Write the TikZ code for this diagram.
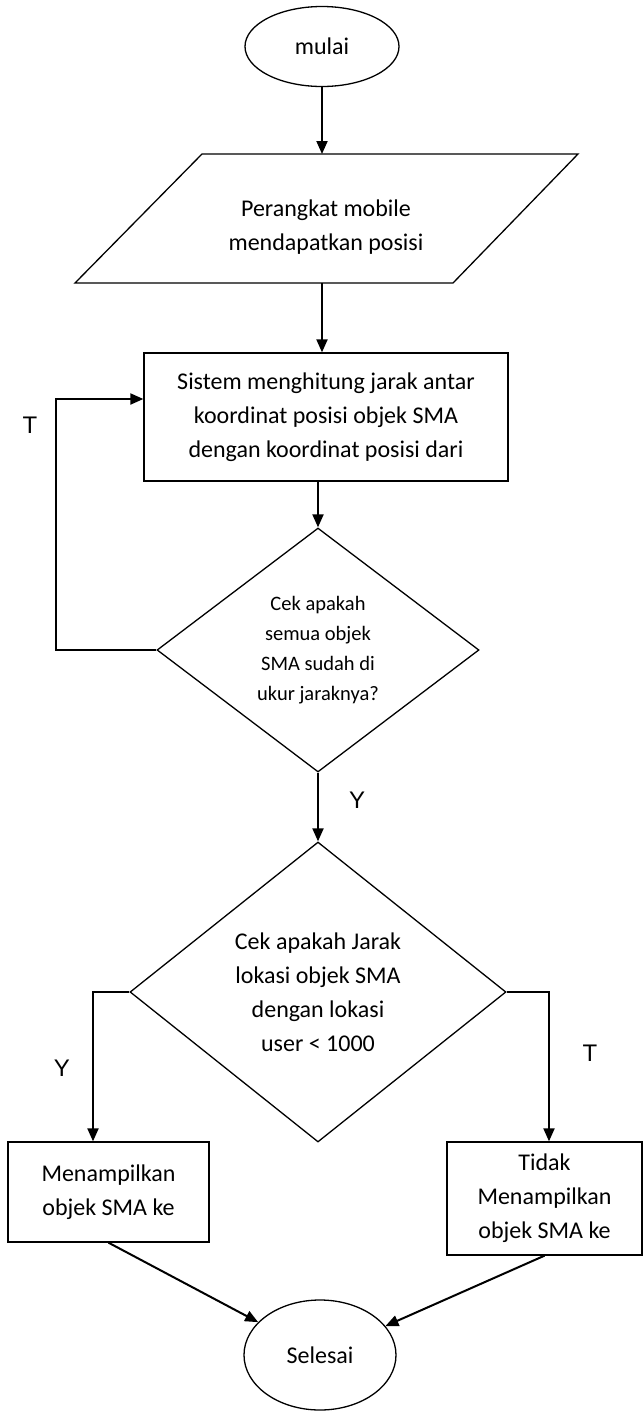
\documentclass[tikz,border=0pt]{standalone}
\usepackage{fontspec}
\setmainfont{Carlito}
\newfontfamily\arialfont{Liberation Sans}
\usetikzlibrary{shapes.geometric,arrows.meta}
\begin{document}
\begin{tikzpicture}[x=1pt,y=-1pt,
  shapeline/.style={draw=black,line width=1.3pt},
  flow/.style={line width=2pt,-{Triangle[length=13pt,width=11pt]}},
  txt/.style={align=center,font=\fontsize{24}{34}\selectfont},
  smalltxt/.style={align=center,font=\fontsize{20.5}{30}\selectfont},
  lbl/.style={font=\arialfont\fontsize{24}{28}\selectfont}]
\useasboundingbox (0,0) rectangle (643,1414);

\node[ellipse,shapeline,minimum width=154pt,minimum height=80pt,inner sep=0pt,txt] (mulai) at (322,46.5) {mulai};

\draw[shapeline] (75,283) -- (202,154) -- (578,154) -- (453,283) -- cycle;
\coordinate (partop) at (322,154);
\coordinate (parbot) at (322,283);
\node[txt] (par) at (326,227) {Perangkat mobile\\mendapatkan posisi};

\node[rectangle,shapeline,minimum width=364pt,minimum height=128pt,txt] (hitung) at (326,417) {Sistem menghitung jarak antar\\koordinat posisi objek SMA\\dengan koordinat posisi dari};

\node[diamond,shapeline,minimum width=322pt,minimum height=244pt,inner sep=0pt,smalltxt] (cek1) at (318,650) {Cek apakah\\semua objek\\SMA sudah di\\ukur jaraknya?};

\node[diamond,shapeline,minimum width=376pt,minimum height=300pt,inner sep=0pt,txt] (cek2) at (318,992) {Cek apakah Jarak\\lokasi objek SMA\\dengan lokasi\\user < 1000};

\node[rectangle,shapeline,minimum width=201pt,minimum height=100pt,txt] (tampil) at (108.5,1192) {Menampilkan\\objek SMA ke};

\node[rectangle,shapeline,minimum width=195pt,minimum height=113pt,txt] (tidak) at (544.5,1198.5) {Tidak\\Menampilkan\\objek SMA ke};

\node[ellipse,shapeline,minimum width=152pt,minimum height=110pt,inner sep=0pt,txt] (selesai) at (320,1355) {Selesai};

\draw[flow] (mulai.south) -- (partop);
\draw[flow] (parbot) -- (parbot |- hitung.north);
\draw[flow] (hitung.south -| cek1.north) -- (cek1.north);
\draw[flow] (cek1.west) -- ++(-100,0) |- ([yshift=18pt]hitung.west);
\draw[flow] (cek1.south) -- (cek2.north);
\draw[flow] (cek2.west) -| ([xshift=-15.5pt]tampil.north);
\draw[flow] (cek2.east) -| ([xshift=4.5pt]tidak.north);
\draw[flow] (tampil.south) -- (selesai);
\draw[flow] (tidak.south) -- (selesai);

\node[lbl] (t1) at (30,425) {T};
\node[lbl] (y1) at (357,800) {Y};
\node[lbl] (y2) at (62,1068) {Y};
\node[lbl] (t2) at (590,1053) {T};
\end{tikzpicture}
\end{document}
